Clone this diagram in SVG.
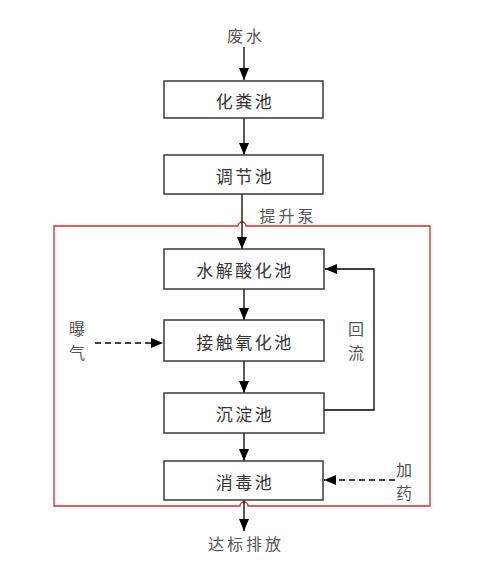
<svg xmlns="http://www.w3.org/2000/svg" width="481" height="568" viewBox="0 0 481 568">
<defs>
<marker id="ahl" viewBox="0 0 12 10" refX="12" refY="5" markerWidth="12" markerHeight="11" markerUnits="userSpaceOnUse" orient="auto">
<path d="M0,0 L12,5 L0,10 Z" fill="#000"/>
</marker>
</defs>
<style>
.box{fill:#fff;stroke:#3a3a3a;stroke-width:1.5}
.t{font-family:"Noto Sans CJK SC","Noto Sans",sans-serif;font-size:17px;fill:#333;text-anchor:middle;dominant-baseline:central;letter-spacing:2.5px}
.lbl{font-family:"Noto Sans CJK SC","Noto Sans",sans-serif;font-size:16px;fill:#555;text-anchor:middle;dominant-baseline:central;letter-spacing:3px}
.lv{font-family:"Noto Sans CJK SC","Noto Sans",sans-serif;font-size:16px;fill:#555;text-anchor:middle;dominant-baseline:central}
.c{fill:none;stroke:#000;stroke-width:1.3}
.d{fill:none;stroke:#000;stroke-width:1.3;stroke-dasharray:6,4}
.red{fill:none;stroke:#d9262b;stroke-width:1.3}
</style>
<rect width="481" height="568" fill="#fff"/>
<g id="boundary">
<path class="red" d="M238,226 L54,226 L54,506 L240,506 A4,4 0 0 1 248,506 L430,506 L430,226 L246,226 A4,4 0 0 0 238,226"/>
</g>
<g id="connectors">
<path class="c" d="M244,47 L244,80" marker-end="url(#ahl)"/>
<path class="c" d="M244,118 L244,155" marker-end="url(#ahl)"/>
<path class="c" d="M242,194 L242,249" marker-end="url(#ahl)"/>
<path class="c" d="M244,289 L244,320" marker-end="url(#ahl)"/>
<path class="c" d="M244,361 L244,393" marker-end="url(#ahl)"/>
<path class="c" d="M244,433 L244,461" marker-end="url(#ahl)"/>
<path class="c" d="M244,500 L244,531" marker-end="url(#ahl)"/>
<path class="c" d="M324,410 L374,410 L374,269 L325,269" marker-end="url(#ahl)"/>
<path class="d" d="M95,343 L163,343" marker-end="url(#ahl)"/>
<path class="d" d="M395,480 L324,480" marker-end="url(#ahl)"/>
</g>
<g id="n-input"><text class="lbl" x="246" y="35">废水</text></g>
<g id="n-hfc"><rect class="box" x="164" y="81" width="159" height="37"/><text class="t" x="245" y="100">化粪池</text></g>
<g id="n-tjc"><rect class="box" x="164" y="155" width="159" height="39"/><text class="t" x="245" y="175">调节池</text></g>
<g id="n-pump"><text class="lbl" x="288" y="215">提升泵</text></g>
<g id="n-sjsh"><rect class="box" x="164" y="249" width="160" height="40"/><text class="t" x="245" y="269">水解酸化池</text></g>
<g id="n-jcyh"><rect class="box" x="164" y="320" width="160" height="41"/><text class="t" x="245" y="341">接触氧化池</text></g>
<g id="n-cdc"><rect class="box" x="164" y="393" width="160" height="40"/><text class="t" x="245" y="413">沉淀池</text></g>
<g id="n-xdc"><rect class="box" x="164" y="461" width="159" height="39"/><text class="t" x="245" y="481">消毒池</text></g>
<g id="n-aer"><text class="lv" x="77" y="328">曝</text><text class="lv" x="77" y="352">气</text></g>
<g id="n-ret"><text class="lv" x="356" y="328">回</text><text class="lv" x="356" y="352">流</text></g>
<g id="n-dose"><text class="lv" x="404" y="469">加</text><text class="lv" x="404" y="492">药</text></g>
<g id="n-out"><text class="lbl" x="246" y="543">达标排放</text></g>
</svg>
